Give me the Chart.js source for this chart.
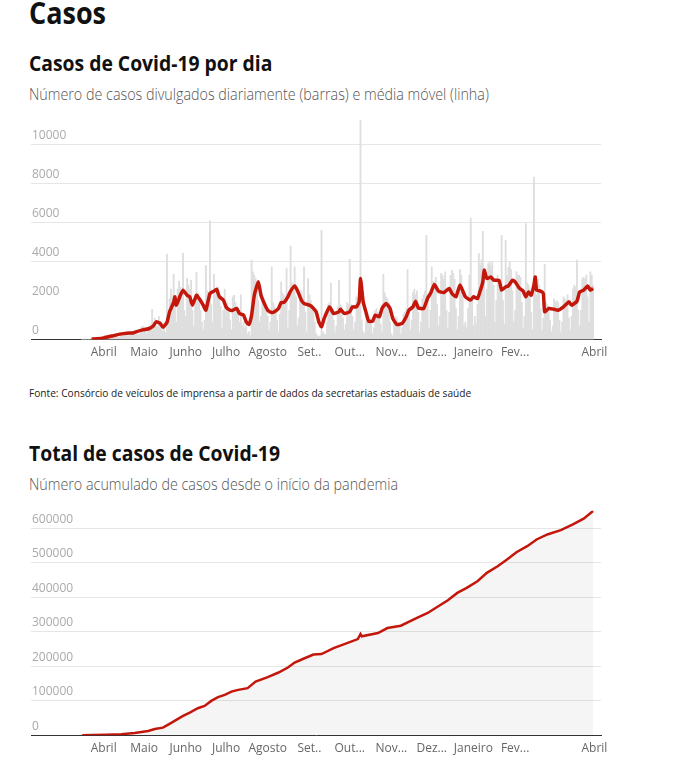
<!DOCTYPE html>
<html lang="pt-BR">
<head>
<meta charset="utf-8">
<title>Casos</title>
<script src="https://cdn.jsdelivr.net/npm/chart.js@4"></script>
<style>
  html, body { margin: 0; padding: 0; background: #fff; }
  body { width: 676px; height: 773px; position: relative; overflow: hidden; font-family: 'Open Sans', sans-serif; }
  .t { position: absolute; left: 29px; white-space: nowrap; transform-origin: 0 0; }
  #h0 { top: -3.5px; font-size: 31px; line-height: 31px; font-weight: 700; color: #111; transform: scaleX(0.87); }
  .h { font-size: 21px; line-height: 21px; font-weight: 700; color: #111; transform: scaleX(0.92); }
  .s { font-size: 16px; line-height: 16px; font-weight: 300; color: #555; transform: scaleX(0.895); }
  #src { top: 387.9px; font-size: 10.3px; line-height: 10.3px; color: #222; transform: scaleX(0.985); }
  canvas { position: absolute; left: 0; }
  #c1 { top: 110px; }
  #c2 { top: 500px; }
</style>
</head>
<body>
<div class="t" id="h0">Casos</div>
<div class="t h" style="top:53px">Casos de Covid-19 por dia</div>
<div class="t s" style="top:85.8px">Número de casos divulgados diariamente (barras) e média móvel (linha)</div>
<canvas id="c1" width="676" height="262"></canvas>
<div class="t" id="src">Fonte: Consórcio de veículos de imprensa a partir de dados da secretarias estaduais de saúde</div>
<div class="t h" style="top:443px">Total de casos de Covid-19</div>
<div class="t s" style="top:475.8px">Número acumulado de casos desde o início da pandemia</div>
<canvas id="c2" width="676" height="262"></canvas>
<script>
// Dias contados a partir de 1º de abril de 2020 (dia 0)
const primeiroDia = -16; // 16 de março de 2020

// Casos divulgados por dia, por mês
const mar2020 = [2, 3, 5, 8, 10, 14, 18, 22, 28, 35, 40, 45, 55, 60, 70, 80];
const abr2020 = [80, 110, 120, 90, 60, 70, 150, 210, 260, 240, 180, 120, 140, 290, 350, 380, 360, 300, 200, 230, 280, 420, 440, 470, 380, 250, 290, 520, 640, 690];
const mai2020 = [620, 480, 300, 420, 700, 780, 1560, 900, 1100, 650, 700, 1200, 950, 800, 450, 600, 350, 4400, 1500, 2100, 2600, 2300, 3360, 1800, 900, 2600, 3000, 2700, 2200, 4430, 1500];
const jun2020 = [1200, 3150, 2800, 2600, 3050, 1500, 700, 1900, 3460, 2400, 2100, 1500, 900, 500, 1000, 3800, 2500, 2200, 6100, 1800, 900, 3360, 2400, 2600, 2700, 2400, 1700, 600, 1500, 2600];
const jul2020 = [1800, 1900, 1600, 1000, 500, 2200, 2280, 1900, 1700, 1500, 900, 2300, 700, 900, 600, 800, 300, 400, 200, 4080, 3480, 3300, 3140, 2800, 2000, 900, 1200, 2300, 1900, 1800, 1600];
const ago2020 = [1200, 500, 900, 3740, 1900, 1700, 1500, 1000, 400, 1300, 2970, 2400, 2300, 2200, 3650, 600, 1500, 4810, 2900, 2800, 3740, 2200, 700, 1100, 2300, 2500, 2200, 3740, 1400, 400, 3140];
const set2020 = [2300, 2000, 1800, 1500, 900, 300, 200, 150, 200, 5620, 400, 300, 250, 900, 1800, 1900, 2900, 1600, 1000, 400, 700, 1700, 3050, 1800, 1700, 1100, 500, 800, 1900, 1800];
const out2020 = [4130, 1800, 1200, 500, 900, 2200, 2100, 2300, 11260, 1000, 400, 300, 900, 1300, 1200, 1100, 800, 300, 600, 1500, 1600, 1400, 1300, 800, 400, 3360, 2400, 2200, 2100, 1900, 900];
const nov2020 = [300, 200, 900, 1200, 1100, 900, 700, 300, 600, 1300, 1400, 1600, 3600, 1500, 500, 1000, 2400, 2600, 2300, 2500, 1400, 400, 900, 2100, 2300, 2500, 5360, 2000, 600, 1500];
const dez2020 = [3740, 3000, 2900, 3200, 1800, 700, 1200, 3400, 3300, 3100, 3480, 1500, 600, 1400, 3300, 3570, 3400, 3100, 1600, 500, 1200, 3600, 3300, 2400, 700, 900, 600, 1600, 3300, 6250, 2100];
const jan2021 = [700, 1200, 800, 1800, 4420, 3800, 4100, 5560, 3000, 1200, 2600, 3900, 4000, 3800, 3990, 2800, 900, 2000, 3300, 3100, 2900, 5360, 2000, 800, 5100, 3300, 3700, 3990, 3600, 2500, 900];
const fev2021 = [1500, 3500, 3300, 3310, 3200, 1900, 600, 1200, 5960, 2900, 2800, 2600, 1400, 500, 8350, 2600, 2300, 3100, 2800, 1600, 500, 1100, 3870, 1900, 1800, 1700, 1000, 400];
const mar2021 = [700, 2100, 1900, 2000, 1900, 1000, 400, 900, 2200, 2100, 2000, 2300, 1100, 500, 1200, 2600, 2800, 2700, 4080, 1500, 700, 1500, 3140, 3200, 3100, 3310, 2200, 900, 3480, 3300, 2800];

// Média móvel
const mediaDias = [-9, -5, 0, 7, 12, 17, 22, 24, 29, 34, 37, 39, 42, 44, 47, 49, 52, 53, 54, 57, 59, 62, 64, 66, 69, 71, 74, 76, 79, 82, 84, 86, 89, 91, 94, 96, 99, 101, 104, 106, 108, 110, 112, 115, 117, 120, 122, 125, 127, 130, 132, 134, 137, 139, 142, 144, 147, 149, 153, 155, 158, 160, 162, 164, 168, 171, 175, 176, 179, 183, 185, 188, 190, 191, 193, 195, 197, 200, 202, 205, 207, 210, 213, 215, 218, 222, 225, 227, 230, 232, 234, 238, 241, 243, 246, 249, 253, 257, 259, 262, 265, 269, 273, 275, 278, 280, 282, 283, 285, 288, 290, 294, 296, 299, 301, 304, 306, 309, 312, 314, 316, 318, 320, 321, 322, 325, 327, 328, 331, 335, 338, 342, 346, 348, 352, 354, 357, 360, 362, 364];
const mediaValores = [25, 45, 90, 200, 280, 330, 340, 400, 500, 570, 710, 915, 830, 640, 880, 1430, 1910, 2200, 1770, 2280, 2540, 2280, 2200, 1770, 2280, 2110, 1770, 1510, 2370, 2490, 2590, 2200, 2030, 1680, 1510, 1510, 1600, 1340, 1260, 910, 780, 1260, 2280, 2970, 2280, 1770, 1510, 1390, 1430, 1600, 1910, 1910, 2200, 2490, 2760, 2540, 2030, 1860, 1770, 1680, 1430, 910, 660, 1090, 1680, 1340, 1430, 1560, 1340, 1430, 1680, 1680, 1940, 3140, 1940, 1430, 950, 950, 1260, 1170, 1600, 1860, 1600, 1090, 780, 830, 1170, 1510, 1680, 1970, 1630, 1600, 2140, 2370, 2830, 2490, 2420, 2630, 2370, 2200, 2800, 2200, 2030, 2200, 2110, 2490, 2970, 3570, 3140, 3220, 3050, 3050, 2540, 2710, 2760, 3050, 2970, 2660, 2490, 2200, 2450, 2280, 2800, 3220, 2540, 2490, 2370, 1430, 1600, 1560, 1510, 1680, 1940, 1770, 1970, 2450, 2540, 2760, 2540, 2630];

// Total acumulado
const totalDias = [-16, 1, 13, 23, 33, 38, 44, 48, 54, 59, 64, 70, 75, 80, 85, 90, 95, 100, 107, 113, 122, 130, 137, 142, 149, 156, 162, 171, 181, 189, 191, 192, 204, 211, 221, 233, 241, 248, 256, 263, 270, 278, 285, 293, 300, 307, 315, 322, 330, 340, 349, 357, 364];
const totalValores = [0, 1500, 3000, 6500, 12500, 18000, 22100, 31000, 44500, 56100, 65800, 78500, 85200, 99700, 110500, 117200, 126800, 131700, 136600, 155800, 168600, 182000, 196600, 211100, 222700, 234300, 235400, 252900, 267400, 279000, 293500, 287000, 296500, 311000, 317700, 340100, 354700, 372100, 391300, 412800, 427300, 446500, 470900, 490100, 509600, 530800, 548300, 567700, 582300, 594800, 611300, 627900, 650000];

// Rótulos do eixo horizontal (início de cada mês)
const marcasDias = [0, 30, 61, 91, 122, 153, 183, 214, 244, 275, 306, 365];
const marcasRotulos = ['Abril', 'Maio', 'Junho', 'Julho', 'Agosto', 'Set..', 'Out...', 'Nov...', 'Dez...', 'Janeiro', 'Fev...', 'Abril'];

// Marcas do eixo vertical
const marcasDiarias = [0, 2000, 4000, 6000, 8000, 10000];
const marcasTotal = [0, 100000, 200000, 300000, 400000, 500000, 600000];

const casosDiarios = [].concat(mar2020, abr2020, mai2020, jun2020, jul2020, ago2020, set2020, out2020, nov2020, dez2020, jan2021, fev2021, mar2021);

const VERMELHO = '#c4170c';
Chart.defaults.font.family = "'Open Sans', sans-serif";
Chart.defaults.animation = false;

function eixoX() {
  return {
    type: 'linear', min: -54.1, max: 369.9, offset: false,
    grid: { display: false, drawTicks: false },
    border: { display: true, color: '#333', width: 1 },
    afterBuildTicks: s => { s.ticks = marcasDias.map(v => ({ value: v })); },
    ticks: {
      autoSkip: false, maxRotation: 0, minRotation: 0, padding: 6, color: '#666',
      font: { size: 12 },
      callback: v => { const i = marcasDias.indexOf(v); return i >= 0 ? marcasRotulos[i] : ''; }
    }
  };
}
function eixoY(max, marcas, ocultar) {
  return {
    min: 0, max: max,
    border: { display: false },
    afterBuildTicks: s => { s.ticks = marcas.map(v => ({ value: v })); },
    grid: {
      drawTicks: false, lineWidth: 1,
      color: c => (c.tick && (c.tick.value === 0 || ocultar.includes(c.tick.value))) ? 'rgba(0,0,0,0)' : '#e6e6e6'
    },
    ticks: {
      autoSkip: false, mirror: true, padding: 1, labelOffset: -9,
      color: '#aaa', font: { size: 12 },
      callback: v => String(v)
    }
  };
}

new Chart(document.getElementById('c1'), {
  type: 'bar',
  data: {
    datasets: [
      {
        type: 'line', order: 0,
        data: mediaDias.map((d, i) => ({ x: d, y: mediaValores[i] })),
        borderColor: VERMELHO, borderWidth: 3.5, pointRadius: 0, tension: 0.15, fill: false
      },
      {
        type: 'bar', order: 1,
        data: casosDiarios.map((v, i) => ({ x: primeiroDia + i, y: v })),
        backgroundColor: '#dedede', barThickness: 1.2
      }
    ]
  },
  options: {
    responsive: false, maintainAspectRatio: false,
    layout: { padding: { left: 29, right: 75, top: 9.7, bottom: 6 } },
    plugins: { legend: { display: false }, tooltip: { enabled: false } },
    scales: { x: eixoX(), y: eixoY(11300, marcasDiarias, [2000]) }
  }
});

new Chart(document.getElementById('c2'), {
  type: 'line',
  data: {
    datasets: [{
      data: totalDias.map((d, i) => ({ x: d, y: totalValores[i] })),
      borderColor: VERMELHO, borderWidth: 2.5, pointRadius: 0, tension: 0,
      fill: 'origin', backgroundColor: 'rgba(0,0,0,0.04)'
    }]
  },
  options: {
    responsive: false, maintainAspectRatio: false,
    layout: { padding: { left: 29, right: 75, top: 10.4, bottom: 0.3 } },
    plugins: { legend: { display: false }, tooltip: { enabled: false } },
    scales: { x: eixoX(), y: eixoY(652000, marcasTotal, []) }
  }
});
</script>
</body>
</html>
